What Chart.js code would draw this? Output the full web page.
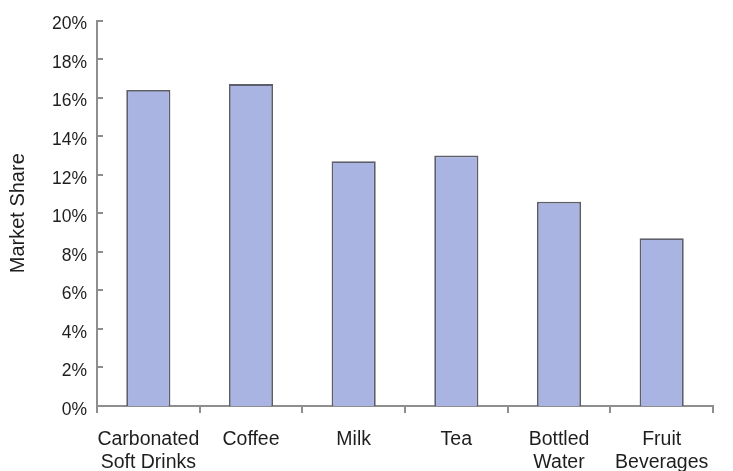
<!DOCTYPE html>
<html>
<head>
<meta charset="utf-8">
<script src="https://cdn.jsdelivr.net/npm/chart.js@4"></script>
<style>
  html, body { margin: 0; padding: 0; background: #fff; }
  #wrap { width: 733px; height: 471px; }
</style>
</head>
<body>
<div id="wrap"><canvas id="shareChart" width="733" height="471"></canvas></div>
<script>
// beverage categories and their market share (%)
const categories = [
    ['Carbonated', 'Soft Drinks'], 'Coffee', 'Milk', 'Tea',
    ['Bottled', 'Water'], ['Fruit', 'Beverages']
];
const shareValues = [16.4, 16.7, 12.7, 13.0, 10.6, 8.7];
const yTicks = [0, 2, 4, 6, 8, 10, 12, 14, 16, 18, 20];

const axisGray = '#8e8e8e';
const textColor = '#1e1e1e';
const fontFamily = '"Liberation Sans", Arial, Helvetica, sans-serif';

// small tick marks on the y axis, pointing into the plot
const inwardTicks = {
    id: 'inwardTicks',
    afterDraw(chart) {
        const { ctx, chartArea, scales } = chart;
        const y = scales.y;
        ctx.save();
        ctx.strokeStyle = axisGray;
        ctx.lineWidth = 2;
        y.ticks.forEach(t => {
            const py = Math.round(y.getPixelForValue(t.value));
            ctx.beginPath();
            ctx.moveTo(chartArea.left, py);
            ctx.lineTo(chartArea.left + 6, py);
            ctx.stroke();
        });
        ctx.restore();
    }
};

const ctx = document.getElementById('shareChart').getContext('2d');
new Chart(ctx, {
    type: 'bar',
    data: {
        labels: categories,
        datasets: [{
            data: shareValues,
            backgroundColor: '#aab4e2',
            borderColor: '#5c5f69',
            borderWidth: 1.8,
            barPercentage: 0.43,
            categoryPercentage: 1
        }]
    },
    options: {
        responsive: false,
        animation: false,
        layout: { padding: { top: 20, right: 20, left: 0, bottom: 0 } },
        plugins: {
            legend: { display: false },
            tooltip: { enabled: false }
        },
        scales: {
            x: {
                offset: true,
                grid: {
                    display: true,
                    drawOnChartArea: false,
                    drawTicks: true,
                    tickLength: 7,
                    offset: true,
                    color: axisGray,
                    lineWidth: 2
                },
                border: { color: axisGray, width: 2 },
                ticks: {
                    color: textColor,
                    font: { family: fontFamily, size: 19.5, lineHeight: 1.18 },
                    padding: 15,
                    maxRotation: 0,
                    autoSkip: false
                },
                afterFit(scale) { scale.height = 65; }
            },
            y: {
                min: 0,
                max: 20,
                afterBuildTicks(scale) {
                    scale.ticks = yTicks.map(v => ({ value: v }));
                },
                grid: { display: false, drawTicks: false },
                border: { color: axisGray, width: 2 },
                ticks: {
                    color: textColor,
                    font: { family: fontFamily, size: 17.5 },
                    padding: 10,
                    labelOffset: 4,
                    callback: v => v + '%'
                },
                title: {
                    display: true,
                    text: 'Market Share',
                    color: textColor,
                    font: { family: fontFamily, size: 20 },
                    padding: { top: 6, bottom: 0 }
                },
                afterFit(scale) { scale.width = 97; }
            }
        }
    },
    plugins: [inwardTicks]
});
</script>
</body>
</html>
